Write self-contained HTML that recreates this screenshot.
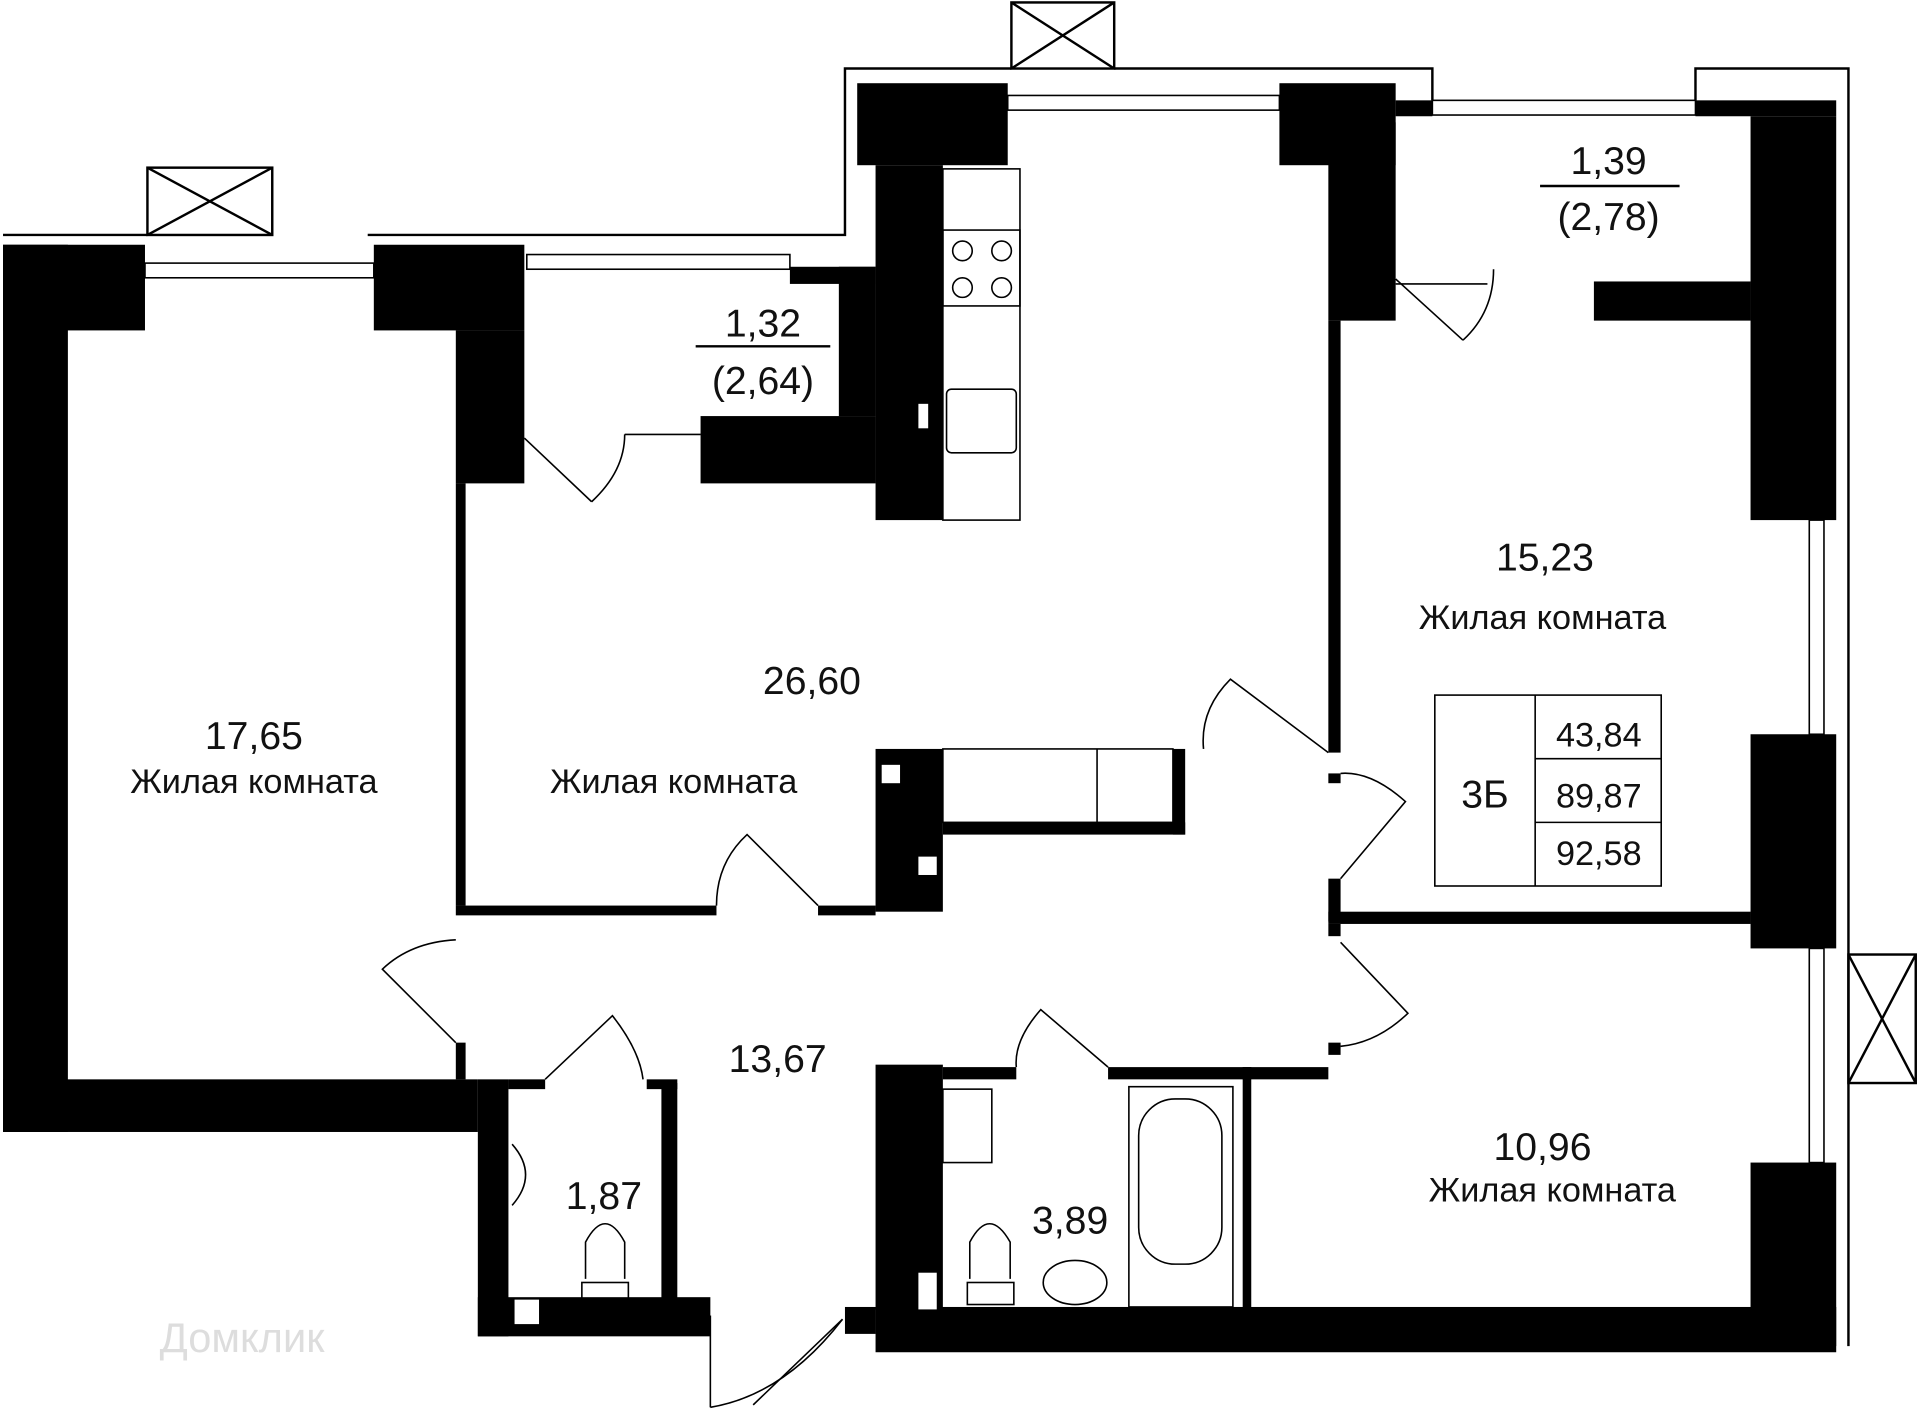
<!DOCTYPE html>
<html><head><meta charset="utf-8"><style>
html,body{margin:0;padding:0;background:#fff}
svg{display:block}
text{font-family:"Liberation Sans","DejaVu Sans",sans-serif;fill:#111}
</style></head><body>
<svg width="1920" height="1422" viewBox="0 0 1568 1162" xmlns="http://www.w3.org/2000/svg">
<rect width="1568" height="1162" fill="#fff"/>
<g fill="none" stroke="#000" stroke-width="2">
<polyline points="2,192 120,192"/>
<polyline points="300,192 690,192 690,56 826,56"/>
<polyline points="910,56 1170,56 1170,82"/>
<polyline points="1385,82 1385,56 1510,56 1510,1100"/>
<rect x="120" y="137" width="102" height="55"/><line x1="120" y1="137" x2="222" y2="192"/><line x1="222" y1="137" x2="120" y2="192"/>
<rect x="826" y="2" width="84" height="54"/><line x1="826" y1="2" x2="910" y2="56"/><line x1="910" y1="2" x2="826" y2="56"/>
<rect x="1510" y="780" width="55" height="105"/><line x1="1510" y1="780" x2="1565" y2="885"/><line x1="1565" y1="780" x2="1510" y2="885"/>
</g>
<g fill="#000">
<rect x="2" y="200" width="116" height="70"/>
<rect x="2" y="200" width="53" height="725"/>
<rect x="2" y="882" width="388" height="43"/>
<rect x="305" y="200" width="123" height="70"/>
<rect x="372" y="270" width="56" height="125"/>
<rect x="645" y="218" width="70" height="14"/>
<rect x="685" y="218" width="30" height="122"/>
<rect x="572" y="340" width="143" height="55"/>
<rect x="700" y="68" width="123" height="67"/>
<rect x="715" y="135" width="55" height="290"/>
<rect x="1045" y="68" width="95" height="67"/>
<rect x="1085" y="100" width="55" height="162"/>
<rect x="1085" y="262" width="10" height="353"/>
<rect x="1140" y="82" width="30" height="13"/>
<rect x="1385" y="82" width="115" height="13"/>
<rect x="1430" y="95" width="70" height="330"/>
<rect x="1302" y="230" width="128" height="32"/>
<rect x="1430" y="600" width="70" height="175"/>
<rect x="1430" y="950" width="70" height="150"/>
<rect x="715" y="1068" width="785" height="37"/>
<rect x="690" y="1068" width="25" height="22"/>
<rect x="715" y="870" width="55" height="200"/>
<rect x="390" y="882" width="25" height="210"/>
<rect x="390" y="1060" width="190" height="32"/>
<rect x="540" y="885" width="13" height="180"/>
<rect x="528" y="882" width="25" height="8"/>
<rect x="415" y="882" width="30" height="8"/>
<rect x="372" y="395" width="8" height="345"/>
<rect x="372" y="740" width="213" height="8"/>
<rect x="668" y="740" width="47" height="8"/>
<rect x="372" y="852" width="8" height="30"/>
<rect x="715" y="612" width="55" height="133"/>
<rect x="770" y="672" width="198" height="10"/>
<rect x="958" y="612" width="10" height="70"/>
<rect x="1085" y="632" width="10" height="8"/>
<rect x="1085" y="718" width="10" height="35"/>
<rect x="1085" y="745" width="345" height="10"/>
<rect x="1085" y="755" width="10" height="10"/>
<rect x="1085" y="852" width="10" height="10"/>
<rect x="1015" y="872" width="70" height="10"/>
<rect x="905" y="872" width="117" height="10"/>
<rect x="1015" y="872" width="7" height="200"/>
<rect x="770" y="872" width="60" height="10"/>
</g>
<g fill="#fff">
<rect x="720" y="625" width="15" height="15"/><rect x="750" y="700" width="15" height="15"/><rect x="750" y="330" width="8" height="20"/><rect x="750" y="1040" width="15" height="30"/><rect x="420" y="1062" width="20" height="20"/>
</g>
<g fill="none" stroke="#000" stroke-width="1.3">
<rect x="118" y="215" width="187" height="12"/><rect x="430" y="208" width="215" height="12"/><rect x="823" y="78" width="222" height="12"/><rect x="1170" y="82" width="215" height="12"/>
<rect x="1478" y="425" width="12" height="175"/><rect x="1478" y="775" width="12" height="175"/>
<rect x="770" y="138" width="63" height="287"/>
<rect x="770" y="188" width="63" height="62"/>
<circle cx="786" cy="205" r="8"/><circle cx="818" cy="205" r="8"/><circle cx="786" cy="235" r="8"/><circle cx="818" cy="235" r="8"/>
<rect x="773" y="318" width="57" height="52" rx="4"/>
<rect x="770" y="612" width="188" height="60"/><line x1="896" y1="612" x2="896" y2="672"/>
<rect x="1172" y="568" width="185" height="156"/><line x1="1254" y1="568" x2="1254" y2="724"/><line x1="1254" y1="620" x2="1357" y2="620"/><line x1="1254" y1="672" x2="1357" y2="672"/>
<rect x="922" y="888" width="85" height="180"/><rect x="930" y="898" width="68" height="135" rx="30"/>
<rect x="770" y="890" width="40" height="60"/>
<ellipse cx="878" cy="1048" rx="26" ry="18"/>
<rect x="475" y="1048" width="38" height="18"/><path d="M478 1045 L478 1015 Q494 985 510 1015 L510 1045"/>
<rect x="790" y="1048" width="38" height="18"/><path d="M792 1045 L792 1015 Q808 985 825 1015 L825 1045"/>
<path d="M418 935 Q440 960 418 985"/>
<line x1="1140" y1="232" x2="1215" y2="232"/>
<line x1="580" y1="1075" x2="580" y2="1150"/>
<path d="M580 1150 Q640 1140 688 1078"/><line x1="615" y1="1148" x2="688" y2="1078"/>
<line x1="428" y1="358" x2="483" y2="410"/><path d="M483 410 Q510 385 510 355"/><line x1="510" y1="355" x2="572" y2="355"/>
<line x1="1140" y1="228" x2="1195" y2="278"/><path d="M1195 278 Q1220 255 1220 220"/>
<path d="M585 740 Q585 705 610 682 L668 740"/>
<path d="M1085 615 L1005 555 Q980 580 983 612"/>
<path d="M1095 632 Q1120 630 1148 655 L1095 718"/>
<path d="M1095 770 L1150 828 Q1125 852 1095 855"/>
<path d="M372 768 Q335 770 312 792 L372 852"/>
<path d="M445 882 L500 830 Q522 858 525 882"/>
<path d="M905 872 L850 825 Q828 850 830 872"/>
</g>
<g font-size="32" text-anchor="middle">
<text x="207" y="612">17,65</text>
<text x="207" y="648" font-size="28">Жилая комната</text>
<text x="663" y="567">26,60</text>
<text x="550" y="648" font-size="28">Жилая комната</text>
<text x="1262" y="466">15,23</text>
<text x="1260" y="514" font-size="28">Жилая комната</text>
<text x="1260" y="948">10,96</text>
<text x="1268" y="982" font-size="28">Жилая комната</text>
<text x="635" y="876">13,67</text>
<text x="874" y="1008">3,89</text>
<text x="493" y="988">1,87</text>
<text x="623" y="275">1,32</text>
<line x1="568" y1="283" x2="678" y2="283" stroke="#000" stroke-width="2"/>
<text x="623" y="322">(2,64)</text>
<text x="1314" y="142">1,39</text>
<line x1="1258" y1="152" x2="1372" y2="152" stroke="#000" stroke-width="2"/>
<text x="1314" y="188">(2,78)</text>
<text x="1213" y="660" font-size="32">3Б</text>
<text x="1306" y="610" font-size="28">43,84</text>
<text x="1306" y="660" font-size="28">89,87</text>
<text x="1306" y="707" font-size="28">92,58</text>
</g>
<text x="130" y="1105" font-size="34" style="fill:#ddd">Домклик</text>
</svg>
</body></html>
